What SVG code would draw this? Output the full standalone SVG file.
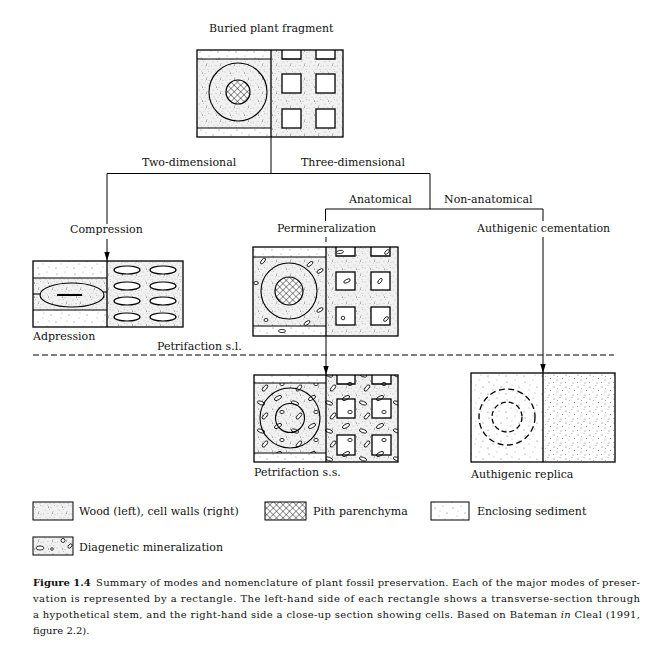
<svg xmlns="http://www.w3.org/2000/svg" width="661" height="656" viewBox="0 0 661 656">
<defs>
<style>
.t{font-family:"DejaVu Serif","Liberation Serif",serif;font-size:11px;fill:#111}
.cap{font-family:"DejaVu Serif","Liberation Serif",serif;font-size:10px;fill:#111}
.bx{fill:none;stroke:#000;stroke-width:1.3}
.ln{fill:none;stroke:#000;stroke-width:1.1}
.con{fill:none;stroke:#000;stroke-width:1}
.cell{fill:#fff;stroke:#000;stroke-width:1.3}
.min{fill:#fff;stroke:#000;stroke-width:0.8}
</style>
<pattern id="wood" width="14" height="14" patternUnits="userSpaceOnUse">
<rect width="14" height="14" fill="#f1f1f1"/>
<g fill="#8a8a8a">
<circle cx="1" cy="2" r="0.45"/><circle cx="5.5" cy="1" r="0.4"/><circle cx="9" cy="3.5" r="0.45"/><circle cx="12.5" cy="1.5" r="0.4"/>
<circle cx="3" cy="6" r="0.45"/><circle cx="7.5" cy="5.5" r="0.4"/><circle cx="11" cy="7.5" r="0.45"/><circle cx="1.5" cy="10" r="0.4"/>
<circle cx="6" cy="9.5" r="0.45"/><circle cx="9.5" cy="11" r="0.4"/><circle cx="13" cy="10.5" r="0.45"/><circle cx="4" cy="13" r="0.4"/>
<circle cx="8" cy="13.2" r="0.4"/><circle cx="12" cy="13.5" r="0.4"/>
</g>
<circle cx="6.5" cy="3" r="0.5" fill="#444"/><circle cx="10.5" cy="9" r="0.5" fill="#444"/>
</pattern>
<pattern id="sed" width="18" height="18" patternUnits="userSpaceOnUse">
<rect width="18" height="18" fill="#fff"/>
<g fill="#555">
<circle cx="3" cy="4" r="0.5"/><circle cx="11" cy="2" r="0.45"/><circle cx="15" cy="9" r="0.5"/><circle cx="7" cy="12" r="0.45"/>
<circle cx="2" cy="16" r="0.5"/><circle cx="13" cy="15" r="0.45"/><circle cx="8" cy="7" r="0.4"/>
</g>
</pattern>
<pattern id="sed2" width="12" height="12" patternUnits="userSpaceOnUse">
<rect width="12" height="12" fill="#fff"/>
<g fill="#555">
<circle cx="2" cy="3" r="0.5"/><circle cx="8" cy="1.5" r="0.45"/><circle cx="10.5" cy="6.5" r="0.5"/><circle cx="5" cy="8" r="0.45"/>
<circle cx="1.5" cy="10.5" r="0.45"/><circle cx="9" cy="11" r="0.5"/><circle cx="5.5" cy="4.5" r="0.4"/>
</g>
</pattern>
<pattern id="hatch" width="4.6" height="4.6" patternUnits="userSpaceOnUse" patternTransform="rotate(45)">
<rect width="4.6" height="4.6" fill="#fff"/>
<path d="M0 0H4.6M0 0V4.6" stroke="#000" stroke-width="0.8"/>
</pattern>
<pattern id="minp" width="34" height="28" patternUnits="userSpaceOnUse">
<ellipse class="min" cx="6" cy="6" rx="4" ry="1.8" transform="rotate(-30 6 6)"/>
<ellipse class="min" cx="23" cy="11" rx="3.8" ry="1.7" transform="rotate(20 23 11)"/>
<ellipse class="min" cx="10" cy="20" rx="2.2" ry="1.6"/>
<ellipse class="min" cx="27" cy="24" rx="3.8" ry="1.7" transform="rotate(-50 27 24)"/>
</pattern>
<marker id="arr" viewBox="0 0 10 6" refX="10" refY="3" markerWidth="9" markerHeight="5.4" orient="auto" markerUnits="userSpaceOnUse">
<path d="M0 0L10 3L0 6z" fill="#000"/>
</marker>
</defs>
<rect width="661" height="656" fill="#fff"/>

<g id="connectors">
<line class="con" x1="271" y1="137" x2="271" y2="173.5"/>
<line class="con" x1="107" y1="173.5" x2="430" y2="173.5"/>
<line class="con" x1="107" y1="173.5" x2="107" y2="224"/>
<line class="con" x1="107" y1="239" x2="107" y2="261" marker-end="url(#arr)"/>
<line class="con" x1="430" y1="173.5" x2="430" y2="209"/>
<line class="con" x1="325.5" y1="209" x2="543" y2="209"/>
<line class="con" x1="325.5" y1="209" x2="325.5" y2="221"/>
<line class="con" x1="326" y1="237" x2="326" y2="242"/>
<line class="con" x1="326" y1="336" x2="326" y2="375" marker-end="url(#arr)"/>
<line class="con" x1="543" y1="209" x2="543" y2="221"/>
<line class="con" x1="543" y1="237" x2="543" y2="373" marker-end="url(#arr)"/>
<line x1="33" y1="355" x2="614" y2="355" stroke="#000" stroke-width="1" stroke-dasharray="6 3"/>
</g>

<g id="labels">
<text class="t" x="209" y="32">Buried plant fragment</text>
<text class="t" x="142" y="166">Two-dimensional</text>
<text class="t" x="301" y="166">Three-dimensional</text>
<text class="t" x="349" y="203">Anatomical</text>
<text class="t" x="444" y="203">Non-anatomical</text>
<text class="t" x="70" y="233">Compression</text>
<text class="t" x="277" y="232">Permineralization</text>
<text class="t" x="477" y="232">Authigenic cementation</text>
<text class="t" x="33" y="340">Adpression</text>
<text class="t" x="157" y="350">Petrifaction s.l.</text>
<text class="t" x="254" y="476">Petrifaction s.s.</text>
<text class="t" x="471" y="478">Authigenic replica</text>
</g>

<g id="node-buried">
<rect x="197" y="50" width="146" height="87" fill="url(#wood)"/>
<rect x="197" y="50" width="74" height="9" fill="url(#sed)"/>
<rect x="197" y="128" width="74" height="9" fill="url(#sed)"/>
<circle cx="238" cy="92" r="12" fill="url(#hatch)" stroke="#000" stroke-width="1.2"/>
<circle class="ln" cx="238" cy="92" r="29"/>
<line class="ln" x1="197" y1="59" x2="271" y2="59"/>
<line class="ln" x1="197" y1="128" x2="271" y2="128"/>
<path class="cell" d="M282 50V59H301V50M316 50V59H335V50"/>
<rect class="cell" x="282" y="74" width="19" height="19"/>
<rect class="cell" x="316" y="74" width="19" height="19"/>
<rect class="cell" x="282" y="109" width="19" height="19"/>
<rect class="cell" x="316" y="109" width="19" height="19"/>
<line class="bx" x1="271" y1="50" x2="271" y2="137"/>
<rect class="bx" x="197" y="50" width="146" height="87"/>
</g>

<g id="node-compression">
<rect x="33" y="261" width="150" height="66" fill="url(#wood)"/>
<rect x="33" y="261" width="74" height="17" fill="url(#sed)"/>
<rect x="33" y="310" width="74" height="17" fill="url(#sed)"/>
<line class="ln" x1="33" y1="278" x2="107" y2="278"/>
<line class="ln" x1="33" y1="310" x2="107" y2="310"/>
<line class="ln" x1="33" y1="294" x2="41" y2="294"/>
<line class="ln" x1="103" y1="292" x2="107" y2="292"/>
<ellipse class="ln" cx="72" cy="295" rx="32" ry="12"/>
<line x1="57" y1="295" x2="82" y2="295" stroke="#000" stroke-width="2"/>
<g class="cell" style="stroke-width:1.2">
<ellipse cx="127" cy="270" rx="13" ry="4"/><ellipse cx="163" cy="270" rx="13" ry="4"/>
<ellipse cx="127" cy="286" rx="13" ry="4"/><ellipse cx="163" cy="286" rx="13" ry="4"/>
<ellipse cx="127" cy="301" rx="13" ry="4"/><ellipse cx="163" cy="301" rx="13" ry="4"/>
<ellipse cx="127" cy="317" rx="13" ry="4"/><ellipse cx="163" cy="317" rx="13" ry="4"/>
</g>
<line class="bx" x1="107" y1="261" x2="107" y2="327"/>
<rect class="bx" x="33" y="261" width="150" height="66"/>
</g>

<g id="node-permineralization">
<rect x="253" y="247" width="145" height="89" fill="url(#wood)"/>
<rect x="253" y="247" width="73" height="10" fill="url(#sed)"/>
<rect x="253" y="326" width="73" height="10" fill="url(#sed)"/>
<circle cx="289" cy="291" r="14" fill="url(#hatch)" stroke="#000" stroke-width="1.2"/>
<circle class="ln" cx="289" cy="291" r="28"/>
<line class="ln" x1="253" y1="257" x2="326" y2="257"/>
<line class="ln" x1="253" y1="326" x2="326" y2="326"/>
<path class="cell" d="M336 247V256H355V247M371 247V256H390V247"/>
<rect class="cell" x="336" y="272" width="19" height="18"/>
<rect class="cell" x="371" y="272" width="19" height="18"/>
<rect class="cell" x="336" y="307" width="19" height="18"/>
<rect class="cell" x="371" y="307" width="19" height="18"/>
<g class="min">
<ellipse cx="263" cy="261" rx="3.5" ry="1.6" transform="rotate(-50 263 261)"/>
<ellipse cx="310" cy="264" rx="3.5" ry="1.6" transform="rotate(-40 310 264)"/>
<ellipse cx="320" cy="271" rx="3.5" ry="1.6" transform="rotate(-30 320 271)"/>
<ellipse cx="256" cy="283" rx="2.2" ry="1.6"/>
<ellipse cx="320" cy="310" rx="3.5" ry="1.6" transform="rotate(-30 320 310)"/>
<ellipse cx="266" cy="320" rx="2" ry="1.5"/>
<ellipse cx="307" cy="323" rx="3.5" ry="1.6" transform="rotate(-35 307 323)"/>
<ellipse cx="282" cy="331" rx="3.5" ry="1.6"/>
<ellipse cx="340" cy="252" rx="3.5" ry="1.6" transform="rotate(-10 340 252)"/>
<ellipse cx="387" cy="252" rx="3" ry="1.5" transform="rotate(-45 387 252)"/>
<ellipse cx="347" cy="281" rx="3.5" ry="1.6" transform="rotate(-25 347 281)"/>
<ellipse cx="380" cy="281" rx="3" ry="1.5" transform="rotate(-55 380 281)"/>
<circle cx="343" cy="318" r="1.8"/>
<ellipse cx="386" cy="319" rx="3" ry="1.5" transform="rotate(-45 386 319)"/>
</g>
<line class="bx" x1="326" y1="247" x2="326" y2="336"/>
<rect class="bx" x="253" y="247" width="145" height="89"/>
</g>

<g id="node-petrifaction-ss">
<rect x="254" y="375" width="144" height="87" fill="url(#wood)"/>
<rect x="254" y="375" width="72" height="8" fill="url(#sed)"/>
<rect x="254" y="453" width="72" height="9" fill="url(#sed)"/>
<path d="M337 375V384H355V375M372 375V384H391V375" fill="#fff"/>
<rect x="337" y="399" width="18" height="19" fill="#fff"/>
<rect x="372" y="399" width="19" height="19" fill="#fff"/>
<rect x="337" y="435" width="18" height="20" fill="#fff"/>
<rect x="372" y="435" width="19" height="20" fill="#fff"/>
<rect x="254" y="383" width="72" height="70" fill="url(#minp)"/>
<rect x="326" y="375" width="72" height="87" fill="url(#minp)"/>
<circle class="ln" cx="290" cy="418" r="30"/>
<circle class="ln" cx="290" cy="418" r="14.5"/>
<line class="ln" x1="254" y1="383" x2="326" y2="383"/>
<line class="ln" x1="254" y1="453" x2="326" y2="453"/>
<path class="bx" d="M337 375V384H355V375M372 375V384H391V375"/>
<rect class="bx" x="337" y="399" width="18" height="19"/>
<rect class="bx" x="372" y="399" width="19" height="19"/>
<rect class="bx" x="337" y="435" width="18" height="20"/>
<rect class="bx" x="372" y="435" width="19" height="20"/>
<line class="bx" x1="326" y1="375" x2="326" y2="462"/>
<rect class="bx" x="254" y="375" width="144" height="87"/>
</g>

<g id="node-authigenic-replica">
<rect x="471" y="373" width="72" height="89" fill="url(#sed)"/>
<rect x="543" y="373" width="72" height="89" fill="url(#sed2)"/>
<circle cx="507" cy="417" r="28" fill="none" stroke="#000" stroke-width="1.3" stroke-dasharray="6 3.5"/>
<circle cx="507" cy="417" r="15" fill="none" stroke="#000" stroke-width="1.3" stroke-dasharray="5 3"/>
<line class="bx" x1="543" y1="373" x2="543" y2="462"/>
<rect class="bx" x="471" y="373" width="144" height="89"/>
</g>

<g id="legend">
<rect x="33" y="502" width="40" height="18" fill="url(#wood)" stroke="#000" stroke-width="1"/>
<text class="t" x="79" y="515">Wood (left), cell walls (right)</text>
<rect x="265" y="502" width="41" height="18" fill="url(#hatch)" stroke="#000" stroke-width="1"/>
<text class="t" x="313" y="515">Pith parenchyma</text>
<rect x="431" y="502" width="38" height="18" fill="url(#sed)" stroke="#000" stroke-width="1"/>
<text class="t" x="477" y="515">Enclosing sediment</text>
<rect x="33" y="537" width="40" height="18" fill="url(#wood)" stroke="#000" stroke-width="1"/>
<g class="min">
<ellipse cx="40" cy="548" rx="4" ry="2"/>
<circle cx="52" cy="549" r="1.3"/>
<circle cx="63" cy="540.5" r="2"/>
<ellipse cx="70" cy="546" rx="2.5" ry="1.5" transform="rotate(-50 70 546)"/>
</g>
<text class="t" x="79" y="551">Diagenetic mineralization</text>
</g>

<g id="caption">
<text class="cap" x="33" y="586" font-weight="bold">Figure 1.4</text>
<text class="cap" x="96" y="586" textLength="544">Summary of modes and nomenclature of plant fossil preservation. Each of the major modes of preser-</text>
<text class="cap" x="33" y="602" textLength="607">vation is represented by a rectangle. The left-hand side of each rectangle shows a transverse-section through</text>
<text class="cap" x="33" y="618" textLength="607">a hypothetical stem, and the right-hand side a close-up section showing cells. Based on Bateman <tspan font-style="italic">in</tspan> Cleal (1991,</text>
<text class="cap" x="33" y="634">figure 2.2).</text>
</g>
</svg>
